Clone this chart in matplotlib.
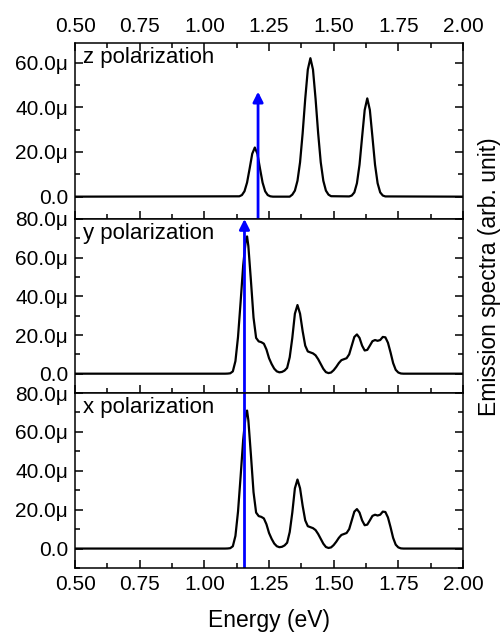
import matplotlib.pyplot as plt
from matplotlib.ticker import MultipleLocator, FuncFormatter

plt.rcParams['font.family'] = ['Liberation Sans', 'DejaVu Sans']

# z polarization spectrum (values in micro units)
z_energy = [0.50, 1.135, 1.145, 1.155, 1.165, 1.175, 1.185, 1.195, 1.205, 1.215, 1.225,
            1.235, 1.245, 1.255, 1.265, 1.275,
            1.33, 1.34, 1.35, 1.36, 1.37, 1.38, 1.39, 1.40, 1.41, 1.42, 1.43, 1.44,
            1.45, 1.46, 1.47, 1.48, 1.49,
            1.56, 1.57, 1.58, 1.59, 1.60, 1.61, 1.62, 1.63, 1.64, 1.65, 1.66, 1.67,
            1.68, 1.69, 1.70, 2.00]
z_pol = [0.0, 0.15, 0.7, 2.4, 6.3, 12.6, 19.2, 22.0, 19.2, 12.6, 6.3,
         2.4, 0.7, 0.15, 0.0, 0.0,
         0.0, 0.9, 2.7, 7.1, 15.4, 28.4, 43.8, 56.9, 62.0, 56.9, 43.8, 28.4,
         15.4, 7.1, 2.7, 0.9, 0.2,
         0.1, 0.5, 1.9, 6.0, 14.3, 26.7, 38.8, 44.0, 38.8, 26.7, 14.3, 6.0,
         1.9, 0.5, 0.1, 0.0]

# y / x polarization spectra (both panels read the same)
xy_energy = [0.50, 1.08, 1.09, 1.10, 1.11, 1.12, 1.13, 1.14, 1.15, 1.16, 1.165, 1.17,
             1.18, 1.19, 1.20, 1.21, 1.22, 1.23, 1.24, 1.25, 1.26, 1.27, 1.28, 1.29,
             1.30, 1.31, 1.32, 1.33, 1.34, 1.35, 1.36, 1.37, 1.38, 1.39, 1.40, 1.41,
             1.42, 1.43, 1.44, 1.45, 1.46, 1.47, 1.48, 1.49, 1.50, 1.51, 1.52, 1.53,
             1.54, 1.55, 1.56, 1.57, 1.58, 1.59, 1.60, 1.61, 1.62, 1.63, 1.64, 1.65,
             1.66, 1.67, 1.68, 1.69, 1.70, 1.71, 1.72, 1.73, 1.74, 1.75, 1.76, 1.77,
             2.00]
y_pol = [0.0, 0.0, 0.05, 0.2, 1.2, 6.5, 19.0, 37.0, 56.0, 69.0, 71.0, 66.0,
         48.0, 29.0, 18.5, 16.7, 16.3, 15.5, 12.5, 8.0, 5.0, 2.6, 1.2, 0.7,
         0.9, 1.6, 3.0, 8.5, 18.5, 31.0, 35.5, 31.0, 22.0, 14.5, 11.5, 11.0,
         10.5, 9.5, 7.5, 5.0, 2.5, 0.8, 0.3, 0.6, 1.8, 3.5, 5.5, 7.0,
         7.5, 8.0, 10.0, 14.5, 19.0, 20.3, 18.5, 14.5, 12.0, 12.3, 14.5, 16.8,
         17.4, 17.0, 17.4, 19.0, 18.8, 16.0, 11.0, 5.5, 2.0, 0.6, 0.1, 0.0,
         0.0]
x_pol = y_pol

z_arrow = (1.2075, 47.0)
xy_arrow = 1.155
panel_names = ['z polarization', 'y polarization', 'x polarization']


def micro(v, pos):
    if abs(v) < 1e-9:
        return '0.0'
    return f'{v:.1f}\u03bc'


fig = plt.figure(figsize=(5.01, 6.34), dpi=100)
left, width = 0.150, 0.774
ax_z = fig.add_axes([left, 0.6546, width, 0.2776])
ax_y = fig.add_axes([left, 0.3801, width, 0.2745], sharex=ax_z)
ax_x = fig.add_axes([left, 0.1041, width, 0.2760], sharex=ax_z)
axes = [ax_z, ax_y, ax_x]

ax_z.plot(z_energy, z_pol, color='black', lw=1.6)
ax_y.plot(xy_energy, y_pol, color='black', lw=1.6)
ax_x.plot(xy_energy, x_pol, color='black', lw=1.6)

ax_z.set_ylim(-10, 68.8)
ax_y.set_ylim(-10, 80)
ax_x.set_ylim(-10, 80)
ax_z.set_xlim(0.5, 2.0)

arrow_style = dict(arrowstyle='-|>', color='blue', lw=2, mutation_scale=15,
                   shrinkA=0, shrinkB=0)
ax_z.annotate('', xy=z_arrow, xytext=(z_arrow[0], -10), arrowprops=arrow_style)
ax_y.annotate('', xy=(xy_arrow, 80), xytext=(xy_arrow, -10), arrowprops=arrow_style)
ax_x.axvline(xy_arrow, color='blue', lw=2)

for ax, name in zip(axes, panel_names):
    ax.xaxis.set_major_locator(MultipleLocator(0.25))
    ax.xaxis.set_minor_locator(MultipleLocator(0.125))
    ax.yaxis.set_major_locator(MultipleLocator(20))
    ax.yaxis.set_minor_locator(MultipleLocator(10))
    ax.yaxis.set_major_formatter(FuncFormatter(micro))
    ax.tick_params(which='both', direction='in', right=True, labelsize=15, pad=5,
                   width=1.1)
    ax.tick_params(which='major', length=6)
    ax.tick_params(which='minor', length=3.5)
    for sp in ax.spines.values():
        sp.set_linewidth(1.1)
    ax.text(0.02, 0.975, name, transform=ax.transAxes, fontsize=16, va='top', ha='left')

ax_z.tick_params(which='both', top=True, labeltop=True, labelbottom=False)
ax_y.tick_params(labelbottom=False)
ax_x.xaxis.set_major_formatter(FuncFormatter(lambda v, p: f'{v:.2f}'))
ax_z.xaxis.set_major_formatter(FuncFormatter(lambda v, p: f'{v:.2f}'))

ax_x.set_xlabel('Energy (eV)', fontsize=16.5, labelpad=11)
fig.text(0.978, 0.563, 'Emission spectra (arb. unit)', rotation=90,
         fontsize=16.5, ha='center', va='center')

fig.savefig('out.png', dpi=100)
